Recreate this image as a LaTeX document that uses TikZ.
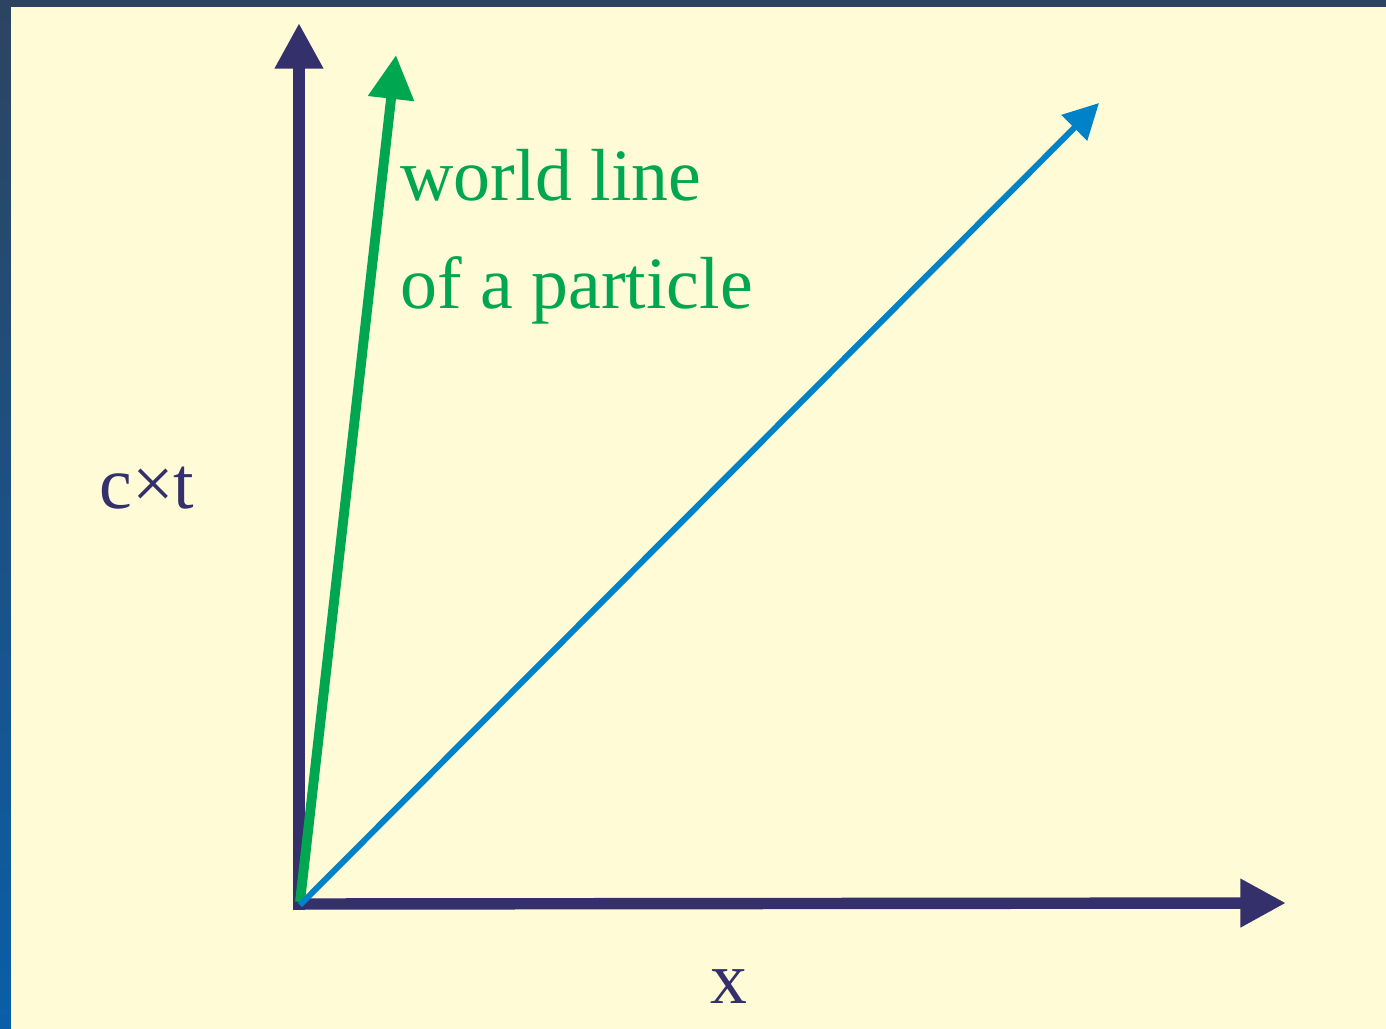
\documentclass[tikz,border=0pt]{standalone}
\usepackage{fontspec}
\setmainfont{Liberation Serif}
\usetikzlibrary{arrows.meta,positioning}
\definecolor{frametop}{RGB}{45,68,96}
\definecolor{framebottom}{RGB}{10,94,168}
\definecolor{paper}{RGB}{255,251,214}
\definecolor{axisnavy}{RGB}{51,48,107}
\definecolor{worldgreen}{RGB}{0,166,80}
\definecolor{lightblue}{RGB}{0,130,200}

\begin{document}
\begin{tikzpicture}[
  x=0.02cm, y=-0.02cm,
  axis/.style={-{Triangle[length=26pt,width=26pt]},line width=6.5pt,draw=axisnavy},
  worldline/.style={-{Triangle[length=25pt,width=25pt]},line width=5.6pt,draw=worldgreen},
  lightray/.style={-{Triangle[length=20pt,width=20pt]},line width=3.4pt,draw=lightblue},
  lbl/.style={inner sep=0pt,anchor=base west,font=\fontsize{42}{50}\selectfont}
]
\useasboundingbox (0,0) rectangle (1386,1028);
\shade[top color=frametop,bottom color=framebottom] (0,0) rectangle (1386,1028);
\fill[paper] (11,7) rectangle (1392,1034);

\coordinate (origin) at (299,904);
\coordinate (ctend) at (299,23);
\coordinate (xend) at (1286,903);
\coordinate (wlstart) at (300,902);
\coordinate (wlend) at (396,55);
\coordinate (raystart) at (300,905);
\coordinate (rayend) at (1099,103);

\draw[axis] ([yshift=-3.2pt]origin) -- (ctend);
\draw[axis] ([xshift=-3.2pt]origin) -- (xend);
\draw[worldline] (wlstart) -- (wlend);
\draw[lightray] (raystart) -- (rayend);

\node[lbl,text=worldgreen] (wl1) at (400,200) {world line};
\node[lbl,text=worldgreen] (wl2) at (400,308) {of a particle};
\node[lbl,text=axisnavy] (ctlabel) at (99,508) {c×t};
\node[lbl,text=axisnavy] (xlabel) at (710,1003) {x};
\end{tikzpicture}
\end{document}
